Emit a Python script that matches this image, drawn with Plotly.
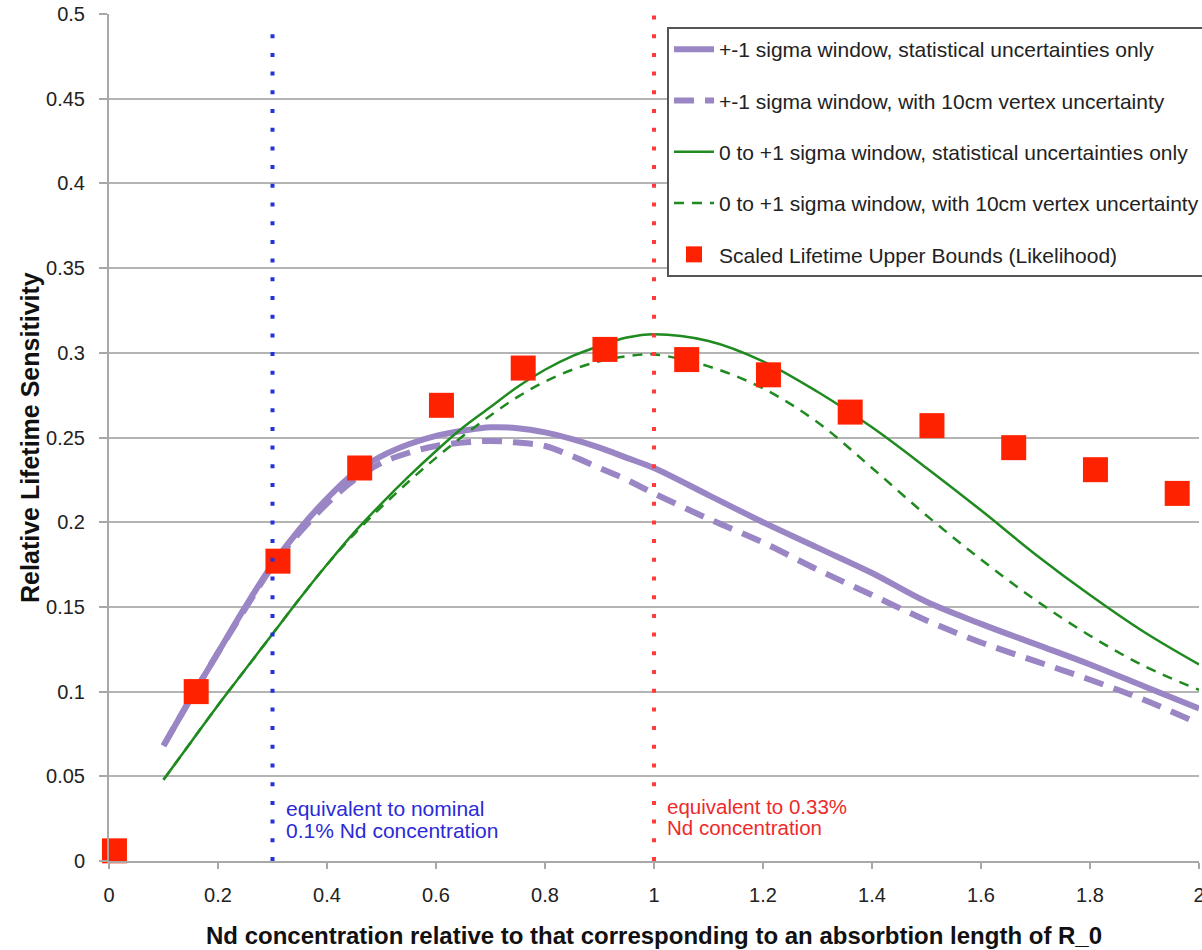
import plotly.graph_objects as go

# ---------------- data ----------------
curve_x = [0.1, 0.15, 0.2, 0.25, 0.3, 0.35, 0.4, 0.45, 0.5, 0.55, 0.6, 0.65, 0.7, 0.75,
           0.8, 0.85, 0.9, 0.95, 1.0, 1.1, 1.2, 1.3, 1.4, 1.5, 1.6, 1.7, 1.8, 1.9, 2.0]

pm1_stat = [0.068, 0.096, 0.123, 0.150, 0.175, 0.196, 0.214, 0.229, 0.239, 0.246,
            0.251, 0.254, 0.256, 0.2555, 0.253, 0.249, 0.244, 0.238, 0.232,
            0.216, 0.200, 0.185, 0.170, 0.153, 0.140, 0.128, 0.116, 0.103, 0.090]
pm1_vertex = [0.068, 0.096, 0.123, 0.149, 0.174, 0.194, 0.211, 0.225, 0.235, 0.241,
              0.245, 0.247, 0.248, 0.247, 0.245, 0.239, 0.232, 0.225, 0.217,
              0.202, 0.188, 0.172, 0.157, 0.142, 0.129, 0.118, 0.107, 0.095, 0.081]
p01_stat = [0.048, 0.070, 0.092, 0.113, 0.134, 0.155, 0.175, 0.194, 0.211, 0.227,
            0.242, 0.256, 0.268, 0.280, 0.290, 0.298, 0.304, 0.309, 0.311,
            0.307, 0.295, 0.277, 0.256, 0.232, 0.207, 0.181, 0.157, 0.135, 0.116]
p01_vertex = [0.048, 0.070, 0.092, 0.113, 0.134, 0.155, 0.175, 0.193, 0.209, 0.224,
              0.238, 0.251, 0.263, 0.274, 0.283, 0.290, 0.295, 0.298, 0.299,
              0.292, 0.279, 0.259, 0.232, 0.204, 0.178, 0.154, 0.133, 0.115, 0.101]

bound_x = [0.01, 0.16, 0.31, 0.46, 0.61, 0.76, 0.91, 1.06, 1.21, 1.36, 1.51, 1.66, 1.81, 1.96]
bound_y = [0.006, 0.100, 0.177, 0.232, 0.269, 0.291, 0.302, 0.296, 0.287, 0.265,
           0.257, 0.244, 0.231, 0.217]

x_ticks = [0, 0.2, 0.4, 0.6, 0.8, 1.0, 1.2, 1.4, 1.6, 1.8, 2.0]
x_tick_labels = ["0", "0.2", "0.4", "0.6", "0.8", "1", "1.2", "1.4", "1.6", "1.8", "2"]
y_ticks = [0, 0.05, 0.1, 0.15, 0.2, 0.25, 0.3, 0.35, 0.4, 0.45, 0.5]
y_tick_labels = ["0", "0.05", "0.1", "0.15", "0.2", "0.25", "0.3", "0.35", "0.4", "0.45", "0.5"]

names = [
    "+-1 sigma window, statistical uncertainties only",
    "+-1 sigma window, with 10cm vertex uncertainty",
    "0 to +1 sigma window, statistical uncertainties only",
    "0 to +1 sigma window, with 10cm vertex uncertainty",
    "Scaled Lifetime Upper Bounds (Likelihood)",
]

FONT = "Liberation Sans, Arial, Helvetica, sans-serif"
PURPLE = "#9a86c4"
GREEN = "#1f8a1f"
RED = "#ff2200"

fig = go.Figure()
fig.add_trace(go.Scatter(x=curve_x, y=pm1_stat, mode="lines", name=names[0],
                         legendgroup="a", line=dict(color=PURPLE, width=6, shape="spline")))
fig.add_trace(go.Scatter(x=curve_x, y=pm1_vertex, mode="lines", name=names[1],
                         legendgroup="b", line=dict(color=PURPLE, width=6, dash="20px,11px", shape="spline")))
fig.add_trace(go.Scatter(x=curve_x, y=p01_stat, mode="lines", name=names[2],
                         legendgroup="c", line=dict(color=GREEN, width=2.5, shape="spline")))
fig.add_trace(go.Scatter(x=curve_x, y=p01_vertex, mode="lines", name=names[3],
                         legendgroup="d", line=dict(color=GREEN, width=2.5, dash="10px,8px", shape="spline")))
fig.add_trace(go.Scatter(x=bound_x, y=bound_y, mode="markers", name=names[4],
                         legendgroup="e", cliponaxis=False,
                         marker=dict(symbol="square", size=25, color=RED, line=dict(width=0))))

# vertical dotted reference lines
fig.add_shape(type="line", xref="x", yref="y", x0=0.3, x1=0.3, y0=0, y1=0.49,
              line=dict(color="#2233dd", width=4, dash="4px,14.7px"), layer="above")
fig.add_shape(type="line", xref="x", yref="y", x0=1.0, x1=1.0, y0=0, y1=0.5,
              line=dict(color="#ff3b3b", width=4, dash="4px,14.7px"), layer="above")

ann = []
for txt, yy in [("equivalent to nominal", 0.0311), ("0.1% Nd concentration", 0.0183)]:
    ann.append(dict(x=0.322, y=yy, xref="x", yref="y", text=txt, showarrow=False,
                    xanchor="left", yanchor="middle",
                    font=dict(family=FONT, size=21, color="#2a2ad8")))
for txt, yy in [("equivalent to 0.33%", 0.0323), ("Nd concentration", 0.0195)]:
    ann.append(dict(x=1.02, y=yy, xref="x", yref="y", text=txt, showarrow=False,
                    xanchor="left", yanchor="middle",
                    font=dict(family=FONT, size=20.5, color="#ee2a2a")))
# axis titles
ann.append(dict(x=0.5, y=-0.088, xref="paper", yref="paper", yanchor="middle", xanchor="center",
                text="<b>Nd concentration relative to that corresponding to an absorbtion length of R_0</b>",
                showarrow=False, font=dict(family=FONT, size=24, color="#111")))
ann.append(dict(x=-0.073, y=0.5, xref="paper", yref="paper", yanchor="middle", xanchor="center",
                text="<b>Relative Lifetime Sensitivity</b>", textangle=-90,
                showarrow=False, font=dict(family=FONT, size=25, color="#111")))

fig.update_layout(
    width=1202, height=950,
    margin=dict(l=109, r=3, t=14, b=89, autoexpand=False),
    paper_bgcolor="white", plot_bgcolor="white",
    font=dict(family=FONT, size=20, color="#222"),
    showlegend=True,
    legend=dict(x=(667 - 109) / 1090, y=(861 - 27) / 847, xanchor="left", yanchor="top",
                bgcolor="white", bordercolor="#555", borderwidth=2,
                font=dict(family=FONT, size=21, color="#222"),
                tracegroupgap=21, itemwidth=40, traceorder="grouped"),
    annotations=ann,
)
fig.update_xaxes(range=[0, 2], tickvals=x_ticks, ticktext=x_tick_labels,
                 showgrid=False, zeroline=False, showline=True, linecolor="#a8a8a8", linewidth=2,
                 ticks="outside", ticklen=6, tickcolor="#a8a8a8", tickwidth=1.5,
                 ticklabelstandoff=9, ticklabeloverflow="allow",
                 tickfont=dict(family=FONT, size=20, color="#222"))
fig.update_yaxes(range=[0, 0.5], tickvals=y_ticks, ticktext=y_tick_labels,
                 showgrid=True, gridcolor="#b4b4b4", gridwidth=1.5,
                 zeroline=False, showline=True, linecolor="#a8a8a8", linewidth=2,
                 ticks="outside", ticklen=8, tickcolor="#a8a8a8", tickwidth=1.5,
                 ticklabelstandoff=10, tickfont=dict(family=FONT, size=20, color="#222"))

fig.write_html("out.html")
